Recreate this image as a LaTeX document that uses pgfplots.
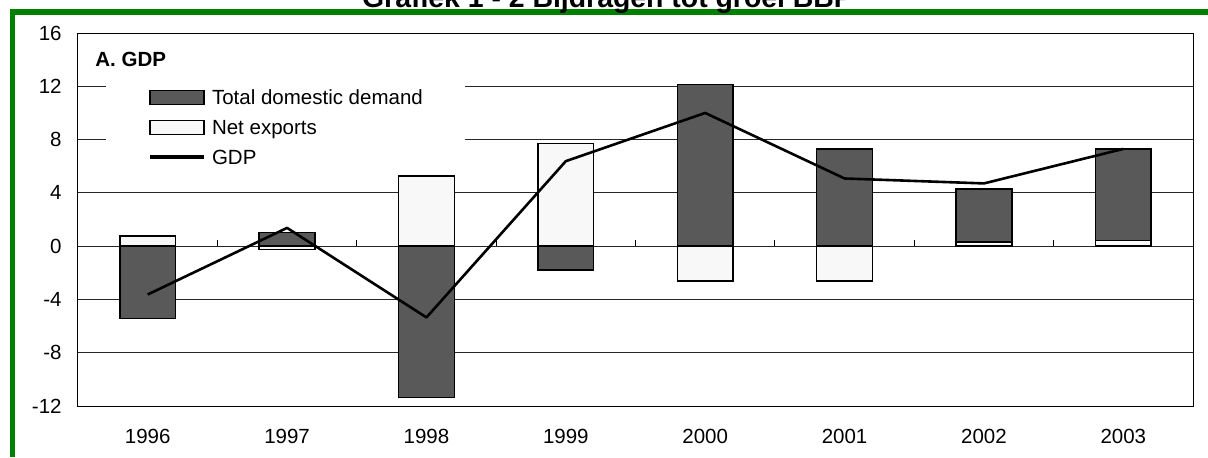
\documentclass[border=0pt]{standalone}
\usepackage{fontspec}
\setmainfont{Liberation Sans}
\usepackage{pgfplots}
\pgfplotsset{compat=1.18}
\definecolor{tdd}{HTML}{595959}
\definecolor{nex}{HTML}{F8F8F8}
\definecolor{framegreen}{HTML}{008000}
\newcommand\fs{\fontsize{10.25}{12}\selectfont}
\pgfplotsset{
  common/.style={scale only axis, width=557.5pt, height=186.5pt,
    xmin=-0.5, xmax=7.5, ymin=-12, ymax=16,
    at={(39pt,-203pt)}, anchor=south west, bar width=0.4},
  barstyle/.style={draw=black, line width=0.75pt, bar shift=0pt,
    legend image code/.code={\draw[##1] (0pt,-3.5pt) rectangle (27pt,3.5pt);}},
}
\begin{document}
\begin{tikzpicture}[x=0.5pt,y=-0.5pt]
\useasboundingbox (0,0) rectangle (1208,457);
% frame
\fill[framegreen] (9.5,9) rectangle (1208,15);
\fill[framegreen] (9.5,9) rectangle (15,457);
\node[anchor=base, inner sep=0pt, font=\bfseries\fontsize{14.2}{16}\selectfont] at (607.5,7) {Grafiek 1 - 2 Bijdragen tot groei BBP};

\begin{axis}[common, ybar stacked,
  ytick={-12,-8,...,16},
  xtick={0,...,7}, xticklabels={1996,1997,1998,1999,2000,2001,2002,2003},
  major tick length=0pt,
  ymajorgrids, major grid style={black!85, line width=0.5pt},
  axis line style={black, line width=0.5pt},
  tick label style={font=\fs},
  /pgf/number format/assume math mode=true,
  yticklabel style={inner sep=0pt, xshift=-8pt},
  xticklabel style={inner sep=0pt, anchor=north, yshift=-11.5pt},
]
% positive parts: net exports below, total domestic demand above
\addplot[barstyle, fill=nex] coordinates {(0,0.77) (1,0) (2,5.28) (3,7.71) (4,0) (5,0) (6,0.3) (7,0.42)};
\addplot[barstyle, fill=tdd] coordinates {(0,0) (1,1.03) (2,0) (3,0) (4,12.14) (5,7.28) (6,4.0) (7,6.86)};
\end{axis}

\begin{axis}[common, hide axis, ybar,
  legend cell align=left,
  legend style={at={(rel axis cs:0.0248,0.870)}, anchor=north west,
    draw=none, fill=white, inner xsep=21pt, inner ysep=3pt,
    /tikz/row sep=5.5pt, /tikz/column sep=3pt, font=\fs,
    nodes={inner sep=0pt, text height=8.4pt, text depth=1.1pt}},
]
% negative parts
\addplot[barstyle, fill=tdd] coordinates {(0,-5.43) (2,-11.36) (3,-1.8)};
\addlegendentry{Total domestic demand}
\addplot[barstyle, fill=nex] coordinates {(1,-0.25) (4,-2.63) (5,-2.63)};
\addlegendentry{Net exports}
\addplot[sharp plot, black, line width=1.3pt, line join=round, mark=none,
  legend image code/.code={\draw[black, line width=2pt] (0pt,0pt) -- (27pt,0pt);}]
  coordinates {(0,-3.63) (1,1.37) (2,-5.35) (3,6.38) (4,10.0) (5,5.08) (6,4.71) (7,7.3)};
\addlegendentry{GDP}
\addplot[ycomb, black, line width=0.5pt, mark=none, forget plot]
  coordinates {(0.5,0.45) (1.5,0.45) (2.5,0.45) (3.5,0.45) (4.5,0.45) (5.5,0.45) (6.5,0.45)};
\end{axis}

\node[anchor=base west, inner sep=0pt, font=\bfseries\fs] at (95,66.7) {A. GDP};
\end{tikzpicture}
\end{document}
